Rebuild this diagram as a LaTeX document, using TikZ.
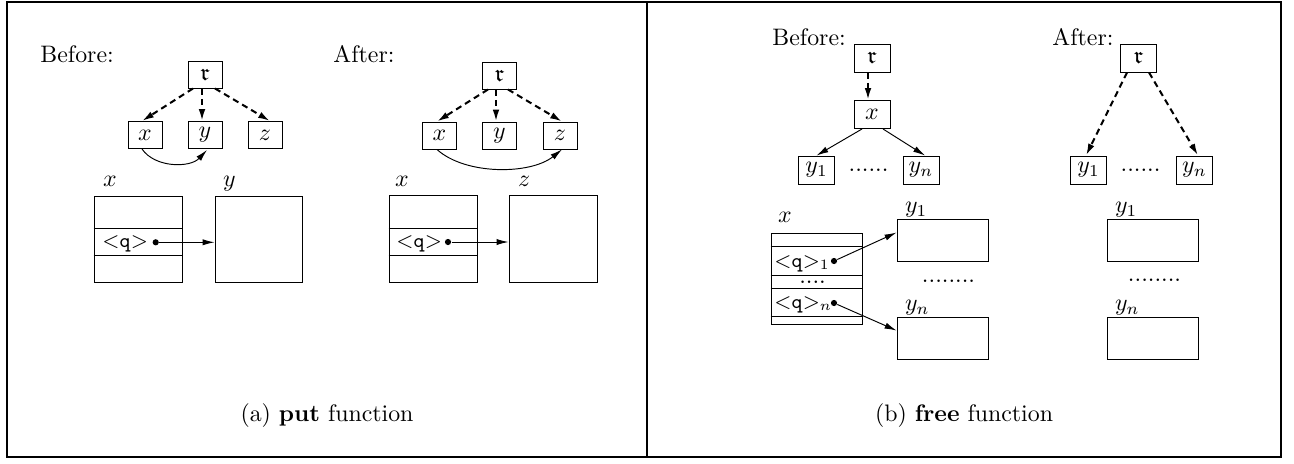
\documentclass[tikz,border=0pt]{standalone}
\usepackage{amssymb}
\usetikzlibrary{arrows.meta,calc}
\begin{document}
\begin{tikzpicture}[x=0.4193pt,y=-0.4193pt,
  frame/.style={line width=1.1pt},
  wh/.style 2 args={minimum width=#1*0.4193pt, minimum height=#2*0.4193pt},
  tbox/.style={draw, line width=0.4pt, inner sep=0pt, wh={34}{27}},
  tboxb/.style={draw, line width=0.4pt, inner sep=0pt, wh={36}{28}},
  bigbox/.style={draw, line width=0.4pt, inner sep=0pt},
  sep/.style={line width=0.4pt},
  ptr/.style={-{Latex[length=5pt,width=2.6pt]}, line width=0.4pt},
  dptr/.style={-{Latex[length=5pt,width=2.8pt]}, line width=0.85pt, dash pattern=on 2.6pt off 1.8pt},
  dot/.style={circle, fill, inner sep=0pt, minimum size=2.6pt},
  lab/.style={anchor=base west, inner sep=0pt},
  txt/.style={anchor=base west, inner sep=0pt},
  slot/.style={anchor=base west, inner sep=0pt, font=\fontsize{8.6pt}{10pt}\selectfont},
  dots/.style={inner sep=0pt}]
\useasboundingbox (0,0) rectangle (1294,463);

% outer frame and divider
\draw[frame] (7,2) rectangle (1281,457);
\draw[frame] (647,2) -- (647,457);

% ---------------- (a) put: before ----------------
\node[txt] (pbl) at (40,62) {Before:};
\node[tbox] (pbr) at (205,74.5) {$\mathfrak{r}$};
\node[tbox] (pbx) at (145,135) {$x$};
\node[tbox] (pby) at (205,135) {$y$};
\node[tbox] (pbz) at (265,135) {$z$};
\draw[dptr] ($(pbr.south)+(-12,0)$) -- ($(pbx.north)+(-3,0)$);
\draw[dptr] ($(pbr.south)+(-3,0)$) -- ($(pby.north)+(-3,0)$);
\draw[dptr] ($(pbr.south)+(10,0)$) -- ($(pbz.north)+(5,0)$);
\draw[ptr] ($(pbx.south)+(-3,0)$) .. controls (155,168) and (190,168) .. ($(pby.south)+(2,1)$);

\node[bigbox, wh={88}{86}] (pbxr) at (138,239) {};
\node[bigbox, wh={87}{86}] (pbyr) at (258.5,239) {};
\draw[sep] ($(pbxr.north west)+(0,33)$) -- ($(pbxr.north east)+(0,33)$);
\draw[sep] ($(pbxr.north west)+(0,60)$) -- ($(pbxr.north east)+(0,60)$);
\node[lab] at ($(pbxr.north west)+(9,-9)$) {$x$};
\node[lab] at ($(pbyr.north west)+(8,-9)$) {$y$};
\node[slot] (pbq) at (102,247) {$<$\texttt{q}$>$};
\node[dot] (pbd) at (155.7,242.3) {};
\draw[ptr] (pbd) -- (pbd -| pbyr.west);

% ---------------- (a) put: after ----------------
\node[txt] (pal) at (333,62) {After:};
\node[tbox] (par) at (499.5,75.5) {$\mathfrak{r}$};
\node[tbox] (pax) at (439.5,135.5) {$x$};
\node[tbox] (pay) at (499.5,135.5) {$y$};
\node[tbox] (paz) at (560,135.5) {$z$};
\draw[dptr] ($(par.south)+(-11.5,0)$) -- ($(pax.north)+(-2.5,0)$);
\draw[dptr] ($(par.south)+(-3.5,0)$) -- ($(pay.north)+(-3.5,0)$);
\draw[dptr] ($(par.south)+(8.5,0)$) -- ($(paz.north)+(2,0)$);
\draw[ptr] ($(pax.south)+(-2.5,0)$) .. controls (465,175) and (530,175) .. ($(paz.south)+(2,0)$);

\node[bigbox, wh={88}{87}] (paxr) at (433,238.5) {};
\node[bigbox, wh={88}{87}] (pazr) at (553,238.5) {};
\draw[sep] ($(paxr.north west)+(0,34)$) -- ($(paxr.north east)+(0,34)$);
\draw[sep] ($(paxr.north west)+(0,61)$) -- ($(paxr.north east)+(0,61)$);
\node[lab] at ($(paxr.north west)+(6,-8)$) {$x$};
\node[lab] at ($(pazr.north west)+(9,-8)$) {$z$};
\node[slot] (paq) at (396,247) {$<$\texttt{q}$>$};
\node[dot] (pad) at (448,242) {};
\draw[ptr] (pad) -- (pad -| pazr.west);

\node[anchor=base] (capa) at (327,421) {(a) \textbf{put} function};

% ---------------- (b) free: before ----------------
\node[txt] (fbl) at (772,45) {Before:};
\node[tboxb] (fbr) at (872,58) {$\mathfrak{r}$};
\node[tboxb] (fbx) at (872,114.5) {$x$};
\node[tboxb] (fby1) at (816.5,170) {$y_1$};
\node[tboxb] (fbyn) at (921,170) {$y_n$};
\node[dots] (fbdt) at (868.5,170) {......};
\draw[dptr] ($(fbr.south)+(-4,0)$) -- ($(fbx.north)+(-4,0)$);
\draw[ptr] ($(fbx.south)+(-10,0)$) -- (fby1.north);
\draw[ptr] ($(fbx.south)+(11,0)$) -- ($(fbyn.north)+(4,0)$);

\node[bigbox, wh={91}{91}] (fbxr) at (816.5,278.5) {};
\draw[sep] ($(fbxr.north west)+(0,14)$) -- ($(fbxr.north east)+(0,14)$);
\draw[sep] ($(fbxr.north west)+(0,43)$) -- ($(fbxr.north east)+(0,43)$);
\draw[sep] ($(fbxr.north west)+(0,56)$) -- ($(fbxr.north east)+(0,56)$);
\draw[sep] ($(fbxr.north west)+(0,84)$) -- ($(fbxr.north east)+(0,84)$);
\node[lab] at ($(fbxr.north west)+(7,-10)$) {$x$};
\node[slot] (fbq1) at (774,267) {$<$\texttt{q}$>_1$};
\node[dots] (fbrd) at (812.5,282) {....};
\node[slot] (fbqn) at (774,308) {$<$\texttt{q}$>_n$};
\node[dot] (fbd1) at (834,261) {};
\node[dot] (fbdn) at (834,303) {};

\node[bigbox, wh={91}{42}] (fby1r) at (942.5,240) {};
\node[bigbox, wh={91}{42}] (fbynr) at (942.5,338) {};
\node[lab] at ($(fby1r.north west)+(8,-6)$) {$y_1$};
\node[lab] at ($(fbynr.north west)+(8,-6)$) {$y_n$};
\node[dots] (fbmd) at (948.5,281) {........};
\draw[ptr] (fbd1) -- ($(fby1r.north west)+(0,14)$);
\draw[ptr] (fbdn) -- ($(fbynr.north west)+(0,14)$);

% ---------------- (b) free: after ----------------
\node[txt] (fal) at (1052,45) {After:};
\node[tboxb] (far) at (1138.5,58) {$\mathfrak{r}$};
\node[tboxb] (fay1) at (1088.5,170) {$y_1$};
\node[tboxb] (fayn) at (1194.5,170) {$y_n$};
\node[dots] (fadt) at (1140.5,170) {......};
\draw[dptr] ($(far.south)+(-11.5,0)$) -- ($(fay1.north)+(-2.5,0)$);
\draw[dptr] ($(far.south)+(10.5,0)$) -- ($(fayn.north)+(3.5,0)$);

\node[bigbox, wh={91}{42}] (fay1r) at (1152.5,240) {};
\node[bigbox, wh={91}{42}] (faynr) at (1152.5,338) {};
\node[lab] at ($(fay1r.north west)+(8,-6)$) {$y_1$};
\node[lab] at ($(faynr.north west)+(8,-6)$) {$y_n$};
\node[dots] (famd) at (1154.5,280) {........};

\node[anchor=base] (capb) at (964,421) {(b) \textbf{free} function};
\end{tikzpicture}
\end{document}
